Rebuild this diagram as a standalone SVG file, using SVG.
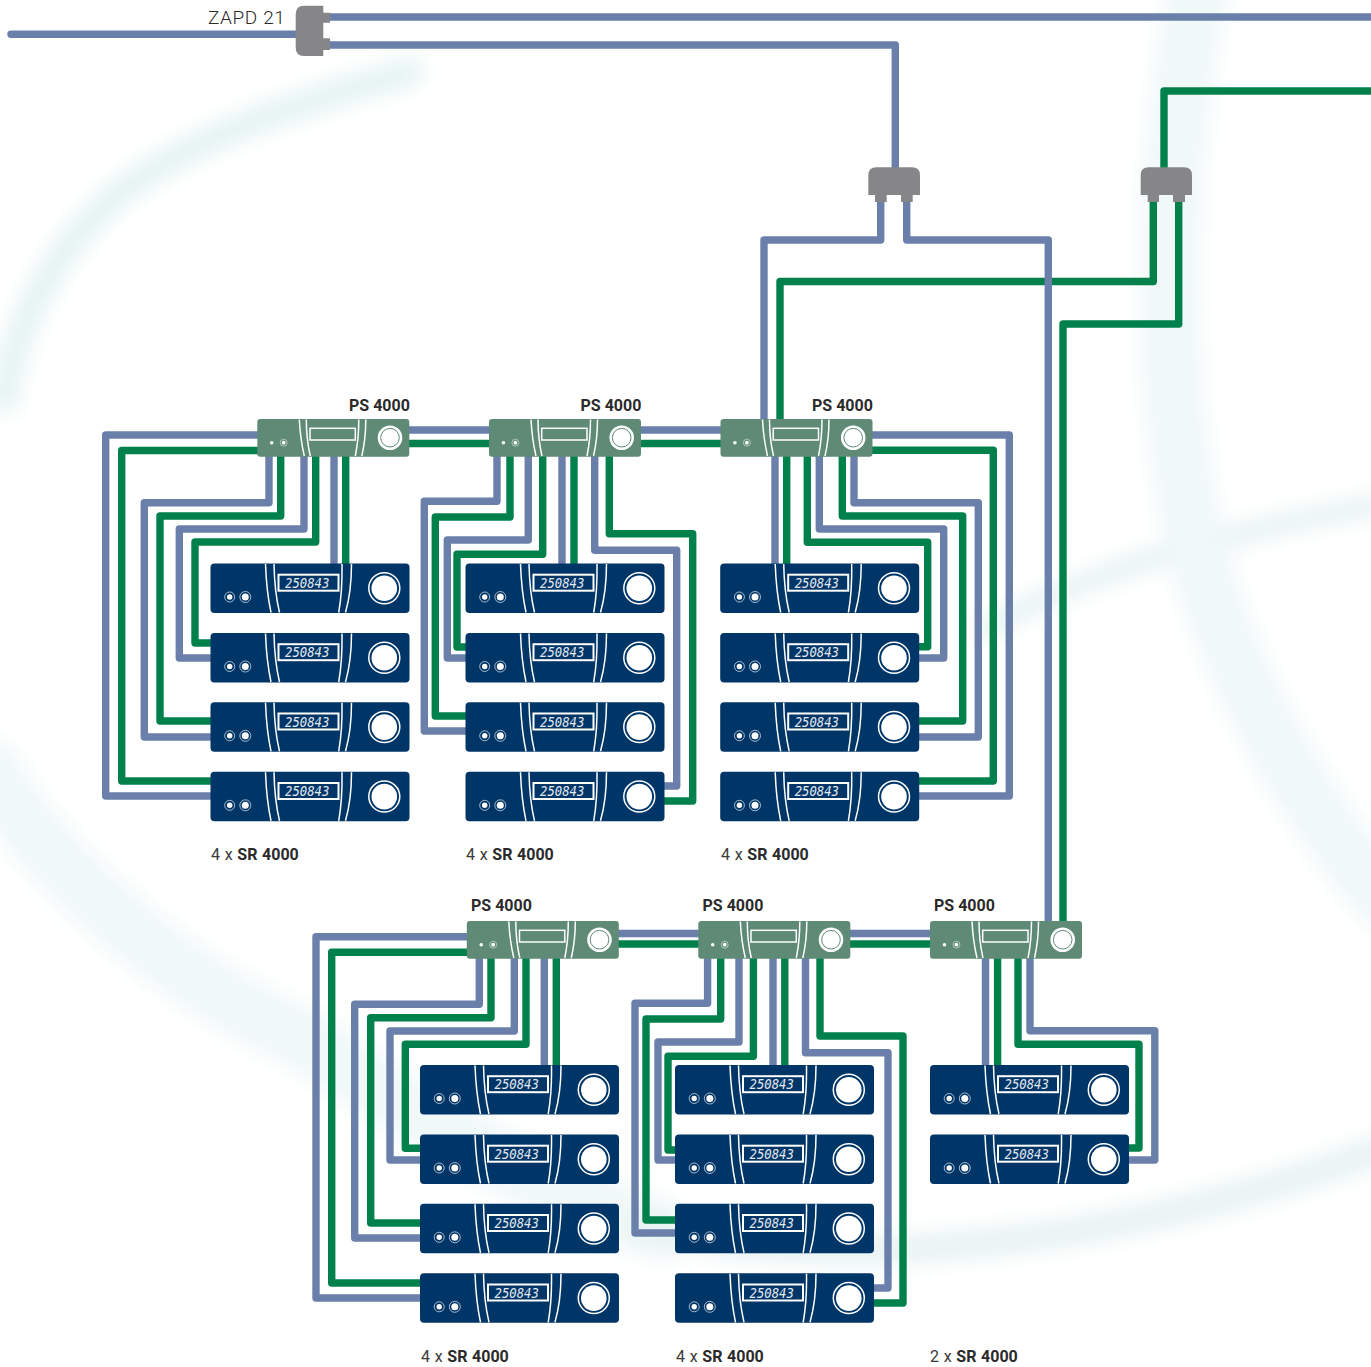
<svg xmlns="http://www.w3.org/2000/svg" width="1371" height="1367" viewBox="0 0 1371 1367">
<style>
.b{fill:none;stroke:#6a80aa;stroke-width:7.400;stroke-linejoin:round}
.g{fill:none;stroke:#00804a;stroke-width:7.400;stroke-linejoin:round}
.l{fill:none;stroke:#fff;stroke-width:1.500}
.d{font:italic 14px "DejaVu Sans Mono",monospace;fill:#e4eaf2}
.t{font-family:Roboto,"Open Sans",sans-serif;fill:#3a3a3a;font-size:16px}
.w{word-spacing:.7px}
.s{font-weight:700;fill:#2a2a2a}
.z{font-family:Roboto,"Open Sans",sans-serif;font-weight:300;fill:#2a2a2a;font-size:19px;letter-spacing:.6px}
.p{fill:#868688}
</style>
<defs>
<filter id="blur" x="-20%" y="-20%" width="140%" height="140%"><feGaussianBlur stdDeviation="10"/></filter>
<g id="sr">
<rect width="199" height="49.500" rx="4" fill="#003568"/>
<path class="l" d="M55 .5Q56 28 60.500 49M63.500 .5Q64 28 69 49M141 .5Q141 28 135 49M131.500 .5Q132 28 128.200 49"/>
<rect x="68" y="11.200" width="60" height="16" fill="none" stroke="#fff" stroke-width="2"/>
<circle cx="173.800" cy="24.800" r="15.500" fill="none" stroke="#fff" stroke-width="1.500"/>
<circle cx="173.800" cy="24.800" r="12.800" fill="#fff"/>
<circle cx="19.200" cy="33.500" r="5" fill="none" stroke="#cfd8e6" stroke-width=".8"/>
<circle cx="19.200" cy="33.500" r="2.700" fill="#fff"/>
<circle cx="34.800" cy="33.500" r="5.500" fill="none" stroke="#cfd8e6" stroke-width=".8"/>
<circle cx="34.800" cy="33.500" r="3.500" fill="#fff"/>
</g>
<g id="ps">
<rect width="152" height="37.700" rx="3" fill="#5f8a75"/>
<path class="l" d="M42 .5Q43 20 47 37M49 .5Q49 20 53 37M108.500 .5Q108.500 20 104.500 37M101.500 .5Q101.500 20 98 37"/>
<rect x="52.700" y="9.300" width="45.300" height="11.700" fill="none" stroke="#fff" stroke-width="1.500"/>
<circle cx="132.700" cy="18.700" r="12.300" fill="#fff"/>
<circle cx="132.700" cy="18.700" r="9.300" fill="#fff" stroke="#5f8a75" stroke-width="1"/>
<circle cx="14.400" cy="23.700" r="1.800" fill="#fff"/>
<circle cx="26.400" cy="23.700" r="3.500" fill="none" stroke="#cfdcd5" stroke-width=".7"/>
<circle cx="26.400" cy="23.700" r="1.900" fill="#fff"/>
</g>
</defs>
<rect width="1371" height="1367" fill="#fff"/>
<g id="background" filter="url(#blur)" fill="none" stroke-linecap="round">
<path stroke="#e3f3f2" stroke-width="26" d="M4 400C15 320 60 240 123 190C200 135 290 105 410 72"/>
<path stroke="#e6f3f2" stroke-width="20" d="M985 630C1060 585 1200 535 1380 505"/>
<path stroke="#f0f8f8" stroke-width="60" d="M1200 -20C1165 150 1160 350 1187 500C1210 640 1290 790 1385 900"/>
<path stroke="#f0f8f8" stroke-width="60" d="M-10 770C40 860 170 980 300 1037C420 1120 540 1190 660 1230"/>
<path stroke="#e6f3f2" stroke-width="28" d="M640 1225C800 1270 1080 1260 1380 1150"/>
</g>
<g id="connectors">
<path class="b" d="M11 34.300H300" stroke-linecap="round"/>
<path class="b" d="M325 17H1371"/>
<path class="b" d="M325 45H895.300V170"/>
<path class="g" d="M1164 170V91H1371"/>
<path class="b" d="M880.700 200V240H764V422"/>
<path class="g" d="M1153.300 200V281.500H780V422"/>
<path class="g" d="M1178.700 200V324H1063V923"/>
<path class="b" d="M906.700 200V240H1048.300V923"/>

<path class="b" d="M405 430H492M636 430H724"/>
<path class="g" d="M405 443.500H492M636 443.500H724"/>
<path class="b" d="M260 435H105.700V796H214"/>
<path class="g" d="M260 450.500H121.700V781H214"/>
<path class="b" d="M269 455V502.700H144.300V737H214"/>
<path class="g" d="M280.700 455V516H160V721H214"/>
<path class="b" d="M304 455V529H179.300V658H214"/>
<path class="g" d="M315.700 455V542H195V643H214"/>
<path class="b" d="M334 455V566"/>
<path class="g" d="M345.700 455V566"/>

<path class="b" d="M497 455V501.300H424.300V731H468"/>
<path class="g" d="M510 455V517H435.300V716H468"/>
<path class="b" d="M528.300 455V540H447.300V658H468"/>
<path class="g" d="M542.700 455V554.300H457V647H468"/>
<path class="b" d="M562 455V566"/>
<path class="g" d="M574 455V566"/>
<path class="b" d="M594.700 455V550.300H676.700V786H660"/>
<path class="g" d="M609.300 455V533.700H692.700V801H660"/>

<path class="b" d="M775 455V566"/>
<path class="g" d="M786.700 455V566"/>
<path class="g" d="M807.300 455V542.300H927.700V646.700H915"/>
<path class="b" d="M819.300 455V529H943.700V658H915"/>
<path class="g" d="M842.300 455V516H962.700V721H915"/>
<path class="b" d="M854 455V502.700H978.300V737H915"/>
<path class="g" d="M868 450.300H993.300V781H915"/>
<path class="b" d="M868 435H1009.300V796H915"/>

<path class="b" d="M615 933.500H701M847 933.500H933"/>
<path class="g" d="M615 944H701M847 944H933"/>
<path class="b" d="M470 936.700H316V1298H424"/>
<path class="g" d="M470 952.300H331.700V1283H424"/>
<path class="b" d="M479.300 957V1004.300H354.700V1238H424"/>
<path class="g" d="M491 957V1017.700H370.700V1223H424"/>
<path class="b" d="M514.300 957V1031H390V1160H424"/>
<path class="g" d="M526 957V1044.300H405.300V1148.300H424"/>
<path class="b" d="M544.300 957V1068"/>
<path class="g" d="M556.300 957V1068"/>

<path class="b" d="M707.600 957V1003.300H635V1233H678"/>
<path class="g" d="M720.700 957V1019H646V1220H678"/>
<path class="b" d="M739 957V1042H658V1160H678"/>
<path class="g" d="M753.400 957V1056.300H668V1150H678"/>
<path class="b" d="M773 957V1068"/>
<path class="g" d="M784.800 957V1068"/>
<path class="b" d="M805.500 957V1052.700H888V1288H870"/>
<path class="g" d="M820 957V1036H903V1303H870"/>

<path class="b" d="M985.500 957V1068"/>
<path class="g" d="M997.600 957V1068"/>
<path class="g" d="M1018 957V1044.300H1139V1148H1125"/>
<path class="b" d="M1030 957V1030.700H1154.800V1160H1125"/>
</g>

<g id="zapd21">
<path class="p" d="M304 5.700H323.300V12.700H330V22.700H323.300V38.300H330V50H323.300V56H304Q295.700 56 295.700 47.700V14Q295.700 5.700 304 5.700Z"/>
<text x="208" y="24" class="z">ZAPD 21</text>
</g>
<g id="splitter-blue"><path class="p" d="M876.300 167.300H912Q920 167.300 920 175.300V195H912.700V202H901V195H886.700V202H875V195H868.300V175.300Q868.300 167.300 876.300 167.300Z"/></g>
<g id="splitter-green"><path class="p" d="M1148.700 167.300H1184Q1192 167.300 1192 175.300V195H1185V202H1173V195H1159V202H1147.700V195H1140.700V175.300Q1140.700 167.300 1148.700 167.300Z"/></g>

<g id="ps1"><use href="#ps" x="257.300" y="419"/><text class="t s" x="349" y="411">PS 4000</text></g>
<g id="ps2"><use href="#ps" x="489" y="419"/><text class="t s" x="580.500" y="411">PS 4000</text></g>
<g id="ps3"><use href="#ps" x="720.500" y="419"/><text class="t s" x="812" y="411">PS 4000</text></g>
<g id="ps4"><use href="#ps" x="466.800" y="921"/><text class="t s" x="471" y="911">PS 4000</text></g>
<g id="ps5"><use href="#ps" x="698.300" y="921"/><text class="t s" x="702.500" y="911">PS 4000</text></g>
<g id="ps6"><use href="#ps" x="930" y="921"/><text class="t s" x="934" y="911">PS 4000</text></g>

<g id="sr-a1"><use href="#sr" x="210.500" y="563.500"/><text class="d" x="285" y="587.700" textLength="44.300" lengthAdjust="spacingAndGlyphs">250843</text></g>
<g id="sr-a2"><use href="#sr" x="210.500" y="633"/><text class="d" x="285" y="657.200" textLength="44.300" lengthAdjust="spacingAndGlyphs">250843</text></g>
<g id="sr-a3"><use href="#sr" x="210.500" y="702.300"/><text class="d" x="285" y="726.500" textLength="44.300" lengthAdjust="spacingAndGlyphs">250843</text></g>
<g id="sr-a4"><use href="#sr" x="210.500" y="771.800"/><text class="d" x="285" y="796" textLength="44.300" lengthAdjust="spacingAndGlyphs">250843</text></g>
<g id="sr-b1"><use href="#sr" x="465.500" y="563.500"/><text class="d" x="540" y="587.700" textLength="44.300" lengthAdjust="spacingAndGlyphs">250843</text></g>
<g id="sr-b2"><use href="#sr" x="465.500" y="633"/><text class="d" x="540" y="657.200" textLength="44.300" lengthAdjust="spacingAndGlyphs">250843</text></g>
<g id="sr-b3"><use href="#sr" x="465.500" y="702.300"/><text class="d" x="540" y="726.500" textLength="44.300" lengthAdjust="spacingAndGlyphs">250843</text></g>
<g id="sr-b4"><use href="#sr" x="465.500" y="771.800"/><text class="d" x="540" y="796" textLength="44.300" lengthAdjust="spacingAndGlyphs">250843</text></g>
<g id="sr-c1"><use href="#sr" x="720.200" y="563.500"/><text class="d" x="794.700" y="587.700" textLength="44.300" lengthAdjust="spacingAndGlyphs">250843</text></g>
<g id="sr-c2"><use href="#sr" x="720.200" y="633"/><text class="d" x="794.700" y="657.200" textLength="44.300" lengthAdjust="spacingAndGlyphs">250843</text></g>
<g id="sr-c3"><use href="#sr" x="720.200" y="702.300"/><text class="d" x="794.700" y="726.500" textLength="44.300" lengthAdjust="spacingAndGlyphs">250843</text></g>
<g id="sr-c4"><use href="#sr" x="720.200" y="771.800"/><text class="d" x="794.700" y="796" textLength="44.300" lengthAdjust="spacingAndGlyphs">250843</text></g>
<g id="sr-d1"><use href="#sr" x="420" y="1065"/><text class="d" x="494.500" y="1089.200" textLength="44.300" lengthAdjust="spacingAndGlyphs">250843</text></g>
<g id="sr-d2"><use href="#sr" x="420" y="1134.500"/><text class="d" x="494.500" y="1158.700" textLength="44.300" lengthAdjust="spacingAndGlyphs">250843</text></g>
<g id="sr-d3"><use href="#sr" x="420" y="1203.800"/><text class="d" x="494.500" y="1228" textLength="44.300" lengthAdjust="spacingAndGlyphs">250843</text></g>
<g id="sr-d4"><use href="#sr" x="420" y="1273.300"/><text class="d" x="494.500" y="1297.500" textLength="44.300" lengthAdjust="spacingAndGlyphs">250843</text></g>
<g id="sr-e1"><use href="#sr" x="675" y="1065"/><text class="d" x="749.500" y="1089.200" textLength="44.300" lengthAdjust="spacingAndGlyphs">250843</text></g>
<g id="sr-e2"><use href="#sr" x="675" y="1134.500"/><text class="d" x="749.500" y="1158.700" textLength="44.300" lengthAdjust="spacingAndGlyphs">250843</text></g>
<g id="sr-e3"><use href="#sr" x="675" y="1203.800"/><text class="d" x="749.500" y="1228" textLength="44.300" lengthAdjust="spacingAndGlyphs">250843</text></g>
<g id="sr-e4"><use href="#sr" x="675" y="1273.300"/><text class="d" x="749.500" y="1297.500" textLength="44.300" lengthAdjust="spacingAndGlyphs">250843</text></g>
<g id="sr-f1"><use href="#sr" x="930" y="1065"/><text class="d" x="1004.500" y="1089.200" textLength="44.300" lengthAdjust="spacingAndGlyphs">250843</text></g>
<g id="sr-f2"><use href="#sr" x="930" y="1134.500"/><text class="d" x="1004.500" y="1158.700" textLength="44.300" lengthAdjust="spacingAndGlyphs">250843</text></g>

<g id="labels">
<text class="t w" x="211" y="860">4 x <tspan class="s">SR 4000</tspan></text>
<text class="t w" x="466" y="860">4 x <tspan class="s">SR 4000</tspan></text>
<text class="t w" x="721" y="860">4 x <tspan class="s">SR 4000</tspan></text>
<text class="t w" x="421" y="1362">4 x <tspan class="s">SR 4000</tspan></text>
<text class="t w" x="676" y="1362">4 x <tspan class="s">SR 4000</tspan></text>
<text class="t w" x="930" y="1362">2 x <tspan class="s">SR 4000</tspan></text>
</g>
</svg>
